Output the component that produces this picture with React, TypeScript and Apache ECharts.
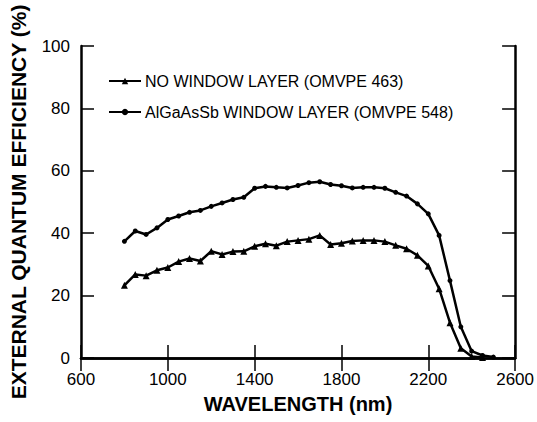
import React, { useEffect, useRef } from "react";
import * as echarts from "echarts";

const wavelengthsA = [800, 850, 900, 950, 1000, 1050, 1100, 1150, 1200, 1250, 1300, 1350, 1400, 1450, 1500, 1550, 1600, 1650, 1700, 1750, 1800, 1850, 1900, 1950, 2000, 2050, 2100, 2150, 2200, 2250, 2300, 2350, 2400, 2450];
const noWindow = [23.3, 26.8, 26.4, 28.1, 29.0, 30.9, 31.9, 31.1, 34.2, 33.2, 34.1, 34.2, 35.8, 36.6, 36.0, 37.3, 37.7, 38.1, 39.3, 36.4, 36.8, 37.5, 37.7, 37.7, 37.3, 36.1, 35.0, 32.9, 29.5, 22.2, 11.3, 3.1, 0.5, 0.2];

const wavelengthsB = [800, 850, 900, 950, 1000, 1050, 1100, 1150, 1200, 1250, 1300, 1350, 1400, 1450, 1500, 1550, 1600, 1650, 1700, 1750, 1800, 1850, 1900, 1950, 2000, 2050, 2100, 2150, 2200, 2250, 2300, 2350, 2400, 2450, 2500];
const withWindow = [37.4, 40.7, 39.6, 41.7, 44.4, 45.5, 46.7, 47.3, 48.6, 49.7, 50.8, 51.5, 54.4, 55.0, 54.7, 54.5, 55.3, 56.2, 56.5, 55.6, 55.2, 54.5, 54.7, 54.7, 54.4, 53.1, 51.9, 49.4, 46.2, 39.3, 24.8, 10.0, 2.2, 0.8, 0.3];

const seriesNames = ["NO WINDOW LAYER (OMVPE 463)", "AlGaAsSb WINDOW LAYER (OMVPE 548)"];
const xTitle = "WAVELENGTH (nm)";
const yTitle = "EXTERNAL QUANTUM EFFICIENCY (%)";

const FONT = "'Liberation Sans', Arial, Helvetica, sans-serif";

export default function App() {
  const ref = useRef<HTMLDivElement>(null);
  useEffect(() => {
    document.body.style.margin = "0";
    if (!ref.current) return;
    const chart = echarts.init(ref.current, null, { renderer: "svg" });
    const axisLine = { show: true, lineStyle: { color: "#000", width: 2.5 } };
    const tick = { show: true, inside: true, length: 13, lineStyle: { color: "#000", width: 1.5 } };
    chart.setOption({
      animation: false,
      backgroundColor: "#fff",
      grid: { left: 79, right: 19, top: 46, bottom: 64, containLabel: false },
      legend: {
        orient: "vertical",
        left: 103,
        top: 68,
        itemWidth: 32,
        itemHeight: 8,
        itemGap: 15,
        textStyle: { fontFamily: FONT, fontSize: 16, color: "#000", padding: [0, 0, 0, -1] },
        data: seriesNames,
      },
      xAxis: [
        {
          type: "value",
          min: 600,
          max: 2600,
          interval: 400,
          axisLine,
          axisTick: tick,
          splitLine: { show: false },
          axisLabel: { fontFamily: FONT, fontSize: 17, color: "#000", margin: 13, formatter: (v: number) => String(v) },
          name: xTitle,
          nameLocation: "middle",
          nameGap: 36,
          nameTextStyle: { fontFamily: FONT, fontSize: 20, fontWeight: "bold", color: "#000" },
        },
        {
          type: "value",
          position: "top",
          min: 600,
          max: 2600,
          interval: 400,
          axisLine,
          axisTick: tick,
          splitLine: { show: false },
          axisLabel: { show: false },
        },
      ],
      yAxis: [
        {
          type: "value",
          min: 0,
          max: 100,
          interval: 20,
          axisLine,
          axisTick: tick,
          splitLine: { show: false },
          axisLabel: { fontFamily: FONT, fontSize: 17, color: "#000", margin: 11 },
          name: yTitle,
          nameLocation: "middle",
          nameGap: 52,
          nameTextStyle: { fontFamily: FONT, fontSize: 21, fontWeight: "bold", color: "#000" },
        },
        {
          type: "value",
          position: "right",
          min: 0,
          max: 100,
          interval: 20,
          axisLine,
          axisTick: tick,
          splitLine: { show: false },
          axisLabel: { show: false },
        },
      ],
      series: [
        {
          name: seriesNames[0],
          type: "line",
          data: wavelengthsA.map((w, i) => [w, noWindow[i]]),
          symbol: "triangle",
          symbolSize: 7,
          lineStyle: { color: "#000", width: 2.5 },
          itemStyle: { color: "#000" },
          xAxisIndex: 0,
          yAxisIndex: 0,
        },
        {
          name: seriesNames[1],
          type: "line",
          data: wavelengthsB.map((w, i) => [w, withWindow[i]]),
          symbol: "circle",
          symbolSize: 5,
          lineStyle: { color: "#000", width: 2.5 },
          itemStyle: { color: "#000" },
          xAxisIndex: 0,
          yAxisIndex: 0,
        },
      ],
    });
    return () => chart.dispose();
  }, []);
  return <div ref={ref} style={{ width: 537, height: 422 }} />;
}
